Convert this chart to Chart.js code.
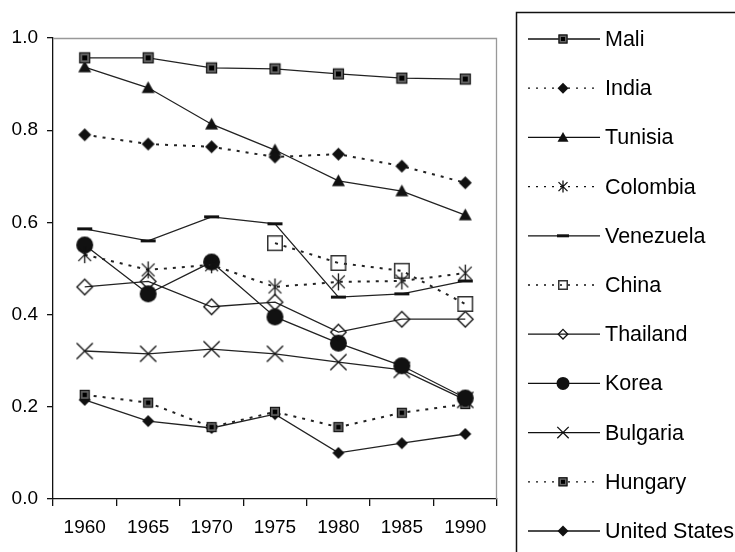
<!DOCTYPE html>
<html lang="en">
<head>
    <meta charset="UTF-8">
    <title>Chart</title>
    <script src="https://cdn.jsdelivr.net/npm/chart.js"></script>
    <style>
        html, body { margin: 0; padding: 0; background: #fff; }
        #wrap { width: 735px; height: 552px; }
    </style>
</head>
<body>
    <div id="wrap"><canvas id="lineChart" width="735" height="552"></canvas></div>

    <script>
        // data
        const years = ['1960', '1965', '1970', '1975', '1980', '1985', '1990'];
        const yTicks = [0, 0.2, 0.4, 0.6, 0.8, 1.0];

        const mali      = [0.957, 0.957, 0.935, 0.933, 0.922, 0.913, 0.911];
        const india     = [0.790, 0.770, 0.764, 0.742, 0.748, 0.722, 0.686];
        const tunisia   = [0.937, 0.892, 0.813, 0.757, 0.690, 0.668, 0.616];
        const colombia  = [0.530, 0.497, 0.508, 0.460, 0.471, 0.473, 0.490];
        const venezuela = [0.586, 0.560, 0.612, 0.597, 0.438, 0.445, 0.473];
        const china     = [null, null, null, 0.555, 0.512, 0.495, 0.423];
        const thailand  = [0.460, 0.472, 0.417, 0.427, 0.362, 0.390, 0.390];
        const korea     = [0.551, 0.445, 0.514, 0.395, 0.338, 0.289, 0.219];
        const bulgaria  = [0.321, 0.315, 0.325, 0.315, 0.297, 0.280, 0.215];
        const hungary   = [0.226, 0.209, 0.156, 0.189, 0.156, 0.187, 0.206];
        const usa       = [0.215, 0.169, 0.154, 0.184, 0.100, 0.121, 0.141];

        const FONT = '"Liberation Sans", Arial, Helvetica, sans-serif';

        // marker drawing, centred at (x, y) with size s
        function drawMarker(c, type, x, y, s) {
            const h = s / 2;
            c.save();
            c.strokeStyle = '#111';
            c.fillStyle = '#111';
            c.lineWidth = 1.3;
            c.beginPath();
            if (type === 'sq') {            // Mali / Hungary filled square
                c.fillStyle = '#666';
                c.fillRect(x - h, y - h, s, s);
                c.lineWidth = 1.2;
                c.strokeRect(x - h + 0.5, y - h + 0.5, s - 1, s - 1);
                c.fillStyle = '#000';
                c.fillRect(x - h * 0.45, y - h * 0.45, h * 0.9, h * 0.9);
            } else if (type === 'dia') {
                c.moveTo(x, y - h); c.lineTo(x + h, y); c.lineTo(x, y + h); c.lineTo(x - h, y);
                c.closePath(); c.fill();
            } else if (type === 'tri') {
                c.moveTo(x, y - h); c.lineTo(x + h, y + h * 0.8); c.lineTo(x - h, y + h * 0.8);
                c.closePath(); c.fill();
            } else if (type === 'ast') {
                const d = h * 0.75;
                c.moveTo(x, y - h); c.lineTo(x, y + h);
                c.moveTo(x - d, y - d); c.lineTo(x + d, y + d);
                c.moveTo(x + d, y - d); c.lineTo(x - d, y + d);
                c.stroke();
            } else if (type === 'dash') {
                c.fillRect(x - h, y - 1.5, s, 3);
            } else if (type === 'osq') {
                c.lineWidth = 1.5;
                c.strokeStyle = '#333';
                c.strokeRect(x - h + 0.75, y - h + 0.75, s - 1.5, s - 1.5);
            } else if (type === 'odia') {
                c.moveTo(x, y - h + 0.7); c.lineTo(x + h - 0.7, y); c.lineTo(x, y + h - 0.7); c.lineTo(x - h + 0.7, y);
                c.closePath(); c.stroke();
            } else if (type === 'circ') {
                c.arc(x, y, h, 0, Math.PI * 2); c.fill();
            } else if (type === 'x') {
                const d = h * 0.95;
                c.moveTo(x - d, y - d); c.lineTo(x + d, y + d);
                c.moveTo(x + d, y - d); c.lineTo(x - d, y + d);
                c.stroke();
            }
            c.restore();
        }

        function markerImage(type, s) {
            const cv = document.createElement('canvas');
            const n = Math.ceil(s) + 2;
            cv.width = n; cv.height = n;
            drawMarker(cv.getContext('2d'), type, n / 2, n / 2, s);
            return cv;
        }

        const series = [
            { name: 'Mali',          data: mali,      dotted: false, mark: 'sq',   size: 11, lsize: 9 },
            { name: 'India',         data: india,     dotted: true,  mark: 'dia',  size: 13, lsize: 11 },
            { name: 'Tunisia',       data: tunisia,   dotted: false, mark: 'tri',  size: 13, lsize: 11 },
            { name: 'Colombia',      data: colombia,  dotted: true,  mark: 'ast',  size: 17, lsize: 12 },
            { name: 'Venezuela',     data: venezuela, dotted: false, mark: 'dash', size: 15, lsize: 12 },
            { name: 'China',         data: china,     dotted: true,  mark: 'osq',  size: 16, lsize: 10 },
            { name: 'Thailand',      data: thailand,  dotted: false, mark: 'odia', size: 17, lsize: 11 },
            { name: 'Korea',         data: korea,     dotted: false, mark: 'circ', size: 17, lsize: 13 },
            { name: 'Bulgaria',      data: bulgaria,  dotted: false, mark: 'x',    size: 17, lsize: 12 },
            { name: 'Hungary',       data: hungary,   dotted: true,  mark: 'sq',   size: 10, lsize: 9 },
            { name: 'United States', data: usa,       dotted: false, mark: 'dia',  size: 12, lsize: 11 }
        ];

        // gray frame on top / right of the plot area
        const framePlugin = {
            id: 'frame',
            beforeDatasetsDraw(chart) {
                const a = chart.chartArea;
                const c = chart.ctx;
                c.save();
                c.strokeStyle = '#999';
                c.lineWidth = 1.3;
                c.beginPath();
                c.moveTo(a.left, a.top + 0.5);
                c.lineTo(a.right - 0.5, a.top + 0.5);
                c.lineTo(a.right - 0.5, a.bottom);
                c.stroke();
                c.restore();
            }
        };

        // legend box on the right
        const legendPlugin = {
            id: 'boxLegend',
            afterDraw(chart) {
                const c = chart.ctx;
                c.save();
                c.strokeStyle = '#111';
                c.lineWidth = 1.5;
                c.strokeRect(516.5, 12.5, 240, 560);
                series.forEach((s, i) => {
                    const y = 39 + i * 49.2;
                    c.save();
                    c.strokeStyle = '#111';
                    c.lineWidth = 1.3;
                    if (s.dotted) c.setLineDash([2, 6]);
                    c.beginPath();
                    c.moveTo(528, y);
                    c.lineTo(600, y);
                    c.stroke();
                    c.restore();
                    drawMarker(c, s.mark, 563, y, s.lsize);
                    c.fillStyle = '#000';
                    c.font = '21.5px ' + FONT;
                    c.textBaseline = 'middle';
                    c.textAlign = 'left';
                    c.fillText(s.name, 605, y + 1);
                });
                c.restore();
            }
        };

        const ctx = document.getElementById('lineChart').getContext('2d');
        const chart = new Chart(ctx, {
            type: 'line',
            data: {
                labels: years,
                datasets: series.map(s => ({
                    label: s.name,
                    data: s.data,
                    borderColor: '#222',
                    borderWidth: s.dotted ? 2 : 1.3,
                    borderDash: s.dotted ? [3, 6] : [],
                    pointStyle: markerImage(s.mark, s.size),
                    fill: false,
                    tension: 0,
                    spanGaps: false
                }))
            },
            options: {
                responsive: false,
                animation: false,
                events: [],
                layout: { padding: { top: 38, right: 238, left: 0, bottom: 0 } },
                plugins: {
                    legend: { display: false },
                    tooltip: { enabled: false }
                },
                scales: {
                    x: {
                        offset: true,
                        grid: { offset: true, drawOnChartArea: false, drawTicks: true, tickLength: 7, color: '#111', lineWidth: 1.3 },
                        border: { color: '#111', width: 1.3 },
                        ticks: { color: '#000', font: { size: 19, family: FONT }, padding: 10, maxRotation: 0 },
                        afterFit(scale) { scale.height = 53; }
                    },
                    y: {
                        min: 0,
                        max: 1,
                        afterBuildTicks(scale) { scale.ticks = yTicks.map(v => ({ value: v })); },
                        grid: { drawOnChartArea: false, drawTicks: true, tickLength: 6, color: '#111', lineWidth: 1.3 },
                        border: { color: '#111', width: 1.3 },
                        ticks: {
                            color: '#000',
                            font: { size: 19, family: FONT },
                            padding: 9,
                            callback: v => Number(v).toFixed(1)
                        },
                        afterFit(scale) { scale.width = 53; }
                    }
                }
            },
            plugins: [framePlugin, legendPlugin]
        });
    </script>
</body>
</html>
